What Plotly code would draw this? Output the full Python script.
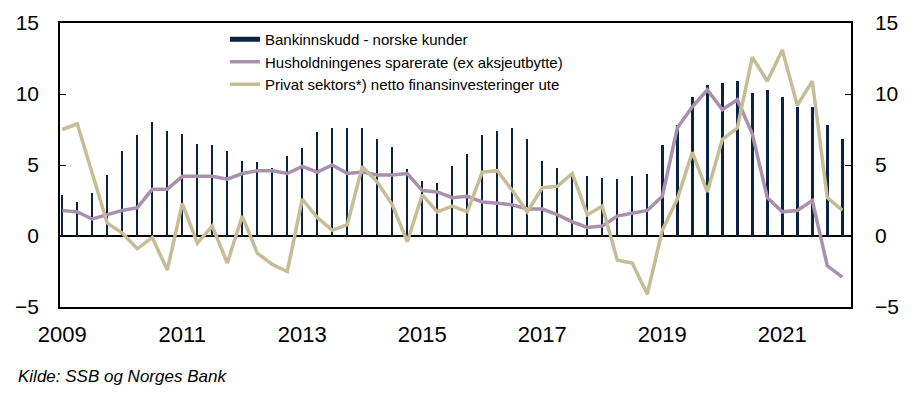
import plotly.graph_objects as go

# Quarterly categories 2009Q1 - 2022Q1
quarters = [f"{y}Q{q}" for y in range(2009, 2023) for q in range(1, 5)][:53]
xpos = [int(s[:4]) + (int(s[-1]) - 1) * 0.25 for s in quarters]

bankinnskudd = [2.9, 2.4, 3.0, 4.3, 6.0, 7.1, 8.0, 7.4, 7.2, 6.5, 6.4, 6.0, 5.3, 5.2, 4.8, 5.6,
                6.2, 7.3, 7.6, 7.6, 7.6, 6.8, 6.3, 4.7, 3.9, 3.7, 4.9, 5.8, 7.1, 7.4, 7.6, 6.8,
                5.3, 4.8, 4.4, 4.2, 4.1, 4.0, 4.2, 4.4, 6.4, 7.8, 9.8, 10.6, 10.8, 10.9, 10.1, 10.3,
                9.8, 9.1, 9.1, 7.8, 6.8]

sparerate = [1.8, 1.7, 1.2, 1.5, 1.8, 2.0, 3.3, 3.3, 4.2, 4.2, 4.2, 4.0, 4.4, 4.6, 4.6, 4.4,
             4.9, 4.5, 5.0, 4.4, 4.5, 4.3, 4.3, 4.4, 3.2, 3.1, 2.7, 2.8, 2.4, 2.3, 2.2, 1.9,
             1.9, 1.5, 1.0, 0.6, 0.7, 1.4, 1.6, 1.8, 2.8, 7.6, 9.1, 10.3, 8.9, 9.6, 7.2, 2.7,
             1.7, 1.8, 2.5, -2.1, -2.9]

finansinv = [7.5, 7.9, 4.4, 0.9, 0.2, -0.9, -0.1, -2.4, 2.3, -0.5, 0.7, -1.9, 1.4, -1.2, -2.0, -2.5,
             2.6, 1.3, 0.4, 0.8, 4.9, 3.8, 2.2, -0.4, 2.9, 1.7, 2.1, 1.7, 4.5, 4.6, 3.2, 1.7,
             3.4, 3.5, 4.4, 1.5, 2.1, -1.7, -1.9, -4.1, 0.4, 2.6, 5.9, 3.1, 6.8, 7.6, 12.6, 10.9,
             13.1, 9.2, 10.9, 2.7, 1.8]

names = ["Bankinnskudd - norske kunder",
         "Husholdningenes sparerate (ex aksjeutbytte)",
         "Privat sektors*) netto finansinvesteringer ute"]
year_ticks = [2009, 2011, 2013, 2015, 2017, 2019, 2021]
y_ticks = [-5, 0, 5, 10, 15]

NAVY = "#0B2342"
PURPLE = "#A991AE"
KHAKI = "#C6BC96"
FONT = "Liberation Sans, Arial, sans-serif"

fig = go.Figure()
fig.add_trace(go.Bar(x=xpos, y=bankinnskudd, name=names[0], width=0.04, showlegend=False,
                     marker=dict(color=NAVY, line=dict(width=0))))
# legend entry for the bars, drawn as a thick swatch like the original
fig.add_trace(go.Scatter(x=[None], y=[None], name=names[0], mode="lines",
                         line=dict(color=NAVY, width=5), hoverinfo="skip"))
fig.add_trace(go.Scatter(x=xpos, y=sparerate, name=names[1], mode="lines",
                         line=dict(color=PURPLE, width=3.5)))
fig.add_trace(go.Scatter(x=xpos, y=finansinv, name=names[2], mode="lines",
                         line=dict(color=KHAKI, width=3.5)))
# invisible trace to carry the right-hand axis
fig.add_trace(go.Scatter(x=xpos, y=finansinv, yaxis="y2", mode="lines",
                         line=dict(color="rgba(0,0,0,0)"), showlegend=False, hoverinfo="skip"))

fig.update_layout(
    width=910, height=390,
    margin=dict(l=52, r=67, t=15, b=91, autoexpand=False),
    paper_bgcolor="white", plot_bgcolor="white",
    font=dict(family=FONT, color="black"),
    showlegend=True,
    legend=dict(x=0.2086, y=1.0, xanchor="left", yanchor="top",
                bgcolor="rgba(255,255,255,0)", font=dict(size=15, family=FONT),
                tracegroupgap=0, itemwidth=30),
    bargap=0,
    xaxis=dict(range=[2008.962, 2022.145], tickvals=year_ticks, ticktext=[str(t) for t in year_ticks],
               showgrid=False, zeroline=False, showline=True, linecolor="black", linewidth=1.5,
               mirror=True, ticks="", tickfont=dict(size=22, family=FONT), ticklabelstandoff=7,
               automargin=False),
    yaxis=dict(range=[-5, 15], tickvals=y_ticks, showgrid=False, zeroline=True,
               zerolinecolor="black", zerolinewidth=1.5, showline=True, linecolor="black",
               linewidth=1.5, ticks="inside", ticklen=6, tickcolor="black",
               tickfont=dict(size=21, family=FONT), ticklabelstandoff=15, automargin=False),
    yaxis2=dict(range=[-5, 15], tickvals=y_ticks, overlaying="y", side="right",
                showgrid=False, zeroline=False, showline=True, linecolor="black", linewidth=1.5,
                ticks="inside", ticklen=6, tickcolor="black",
                tickfont=dict(size=21, family=FONT), ticklabelstandoff=18, automargin=False),
    annotations=[dict(text="<i>Kilde: SSB og Norges Bank</i>", xref="paper", yref="paper",
                      x=-0.055, y=-0.245, xanchor="left", yanchor="middle", showarrow=False,
                      font=dict(size=17, family=FONT, color="black"))],
)

fig.write_html("out.html")
